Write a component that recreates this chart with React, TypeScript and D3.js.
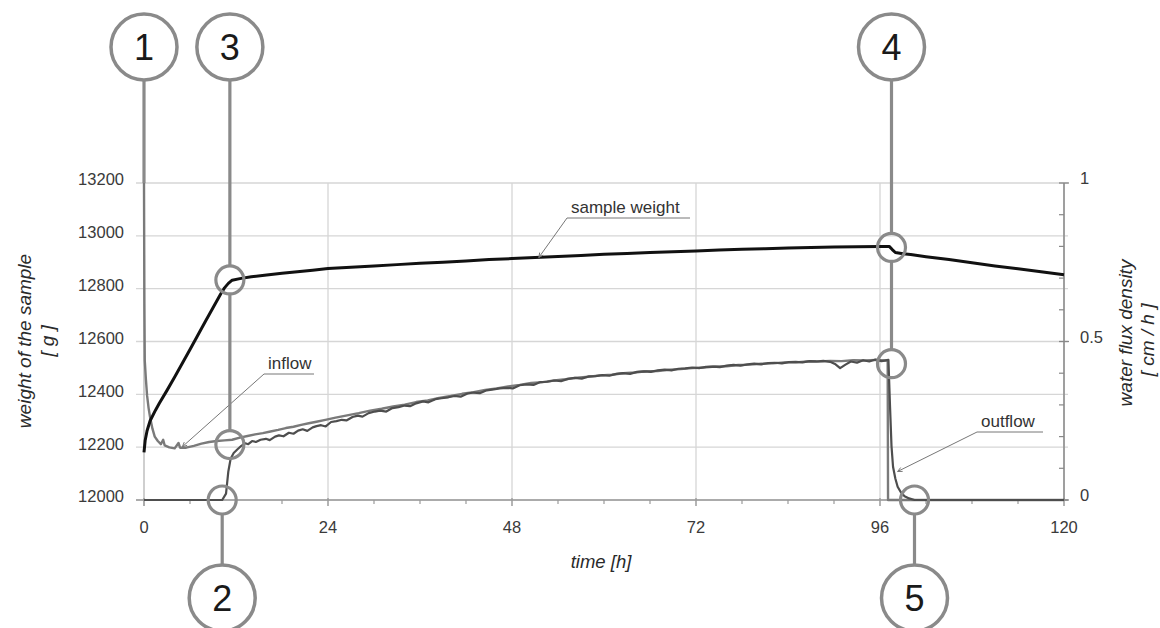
import React from "react";
import * as d3 from "d3";

// ---------- data ----------
const xTicksMajor = [0, 24, 48, 72, 96, 120];
const xTicksMinor = [6, 12, 18, 30, 36, 42, 54, 60, 66, 78, 84, 90, 102, 108, 114];
const weightTicks = [12000, 12200, 12400, 12600, 12800, 13000, 13200];
const fluxTicksLabeled = [0, 0.5, 1];
const fluxTicksMinor = [0.1, 0.2, 0.3, 0.4, 0.6, 0.7, 0.8, 0.9];

// sample weight [g] vs time [h]
const sampleWeight: [number, number][] = [
  [0, 12180], [0.15, 12225], [0.4, 12262], [0.8, 12300], [1.5, 12340], [2, 12366], [3, 12415],
  [4, 12466], [5, 12518], [6, 12570], [7, 12623], [8, 12676], [9, 12728], [10, 12780],
  [10.5, 12803], [11, 12820], [11.5, 12832], [12.5, 12838], [14, 12845], [16, 12852],
  [18, 12858], [20, 12864], [22, 12870], [24, 12876], [27, 12881], [30, 12886], [33, 12891],
  [36, 12896], [39, 12900], [42, 12905], [45, 12910], [48, 12914], [51, 12918], [54, 12922],
  [57, 12926], [60, 12930], [63, 12933], [66, 12937], [69, 12940], [72, 12943], [75, 12946],
  [78, 12949], [81, 12951], [84, 12954], [87, 12956], [90, 12958], [93, 12959], [96, 12960],
  [97.2, 12960], [97.6, 12948], [98, 12937], [99, 12932], [100, 12929], [102, 12921],
  [105, 12910], [108, 12898], [111, 12886], [114, 12875], [117, 12864], [120, 12853],
];

// inflow [cm/h]
const inflow: [number, number][] = [
  [0, 1.0], [0.05, 0.62], [0.1, 0.44], [0.25, 0.38], [0.4, 0.33], [0.6, 0.29], [0.8, 0.26],
  [1.1, 0.225], [1.4, 0.2], [1.8, 0.186], [2.2, 0.176], [2.5, 0.19], [2.7, 0.172], [3.3, 0.166],
  [4.0, 0.163], [4.5, 0.18], [4.7, 0.165], [5.5, 0.165], [6.5, 0.171], [7.5, 0.178], [8.5, 0.183],
  [9.5, 0.186], [10.5, 0.188], [11.5, 0.19], [12.5, 0.197], [13.5, 0.202], [14.5, 0.207],
  [15.5, 0.211], [16.5, 0.216], [17.5, 0.221], [18.5, 0.227], [19.5, 0.231], [20.5, 0.237],
  [21.5, 0.242], [22.5, 0.247], [23.5, 0.252], [25, 0.26], [26.5, 0.267], [28, 0.274],
  [29.5, 0.282], [31, 0.288], [32.5, 0.295], [34, 0.301], [35.5, 0.309], [37, 0.314],
  [38.5, 0.322], [40, 0.328], [41.5, 0.335], [43, 0.34], [44.5, 0.347], [46, 0.352],
  [47.5, 0.358], [49, 0.363], [50.5, 0.369], [52, 0.372], [53.5, 0.377], [55, 0.381],
  [56.5, 0.386], [58, 0.389], [59.5, 0.393], [61, 0.395], [62.5, 0.4], [64, 0.402],
  [65.5, 0.406], [67, 0.407], [68.5, 0.411], [70, 0.413], [71.5, 0.416], [73, 0.418],
  [74.5, 0.421], [76, 0.422], [77.5, 0.426], [79, 0.427], [80.5, 0.43], [82, 0.431],
  [83.5, 0.434], [85, 0.434], [86.5, 0.437], [88, 0.437], [89.5, 0.439], [91, 0.438],
  [92.5, 0.441], [94, 0.44], [95.5, 0.442], [96.6, 0.44], [97.0, 0.44], [97.05, 0], [120, 0],
];

// outflow [cm/h]
const outflow: [number, number][] = [
  [0, 0], [10.2, 0], [10.7, 0.02], [11.0, 0.09], [11.3, 0.13], [11.7, 0.148], [12.2, 0.16],
  [12.7, 0.171], [13.2, 0.179], [13.6, 0.176], [14.1, 0.186], [14.6, 0.183], [15.2, 0.19],
  [15.9, 0.193], [16.4, 0.189], [17.1, 0.2], [17.6, 0.204], [18.2, 0.201], [18.9, 0.212],
  [19.5, 0.209], [20.1, 0.219], [20.7, 0.223], [21.3, 0.218], [22, 0.229], [22.5, 0.233],
  [23.1, 0.236], [23.7, 0.232], [24.4, 0.246], [25.1, 0.249], [25.8, 0.253], [26.4, 0.251],
  [27.2, 0.262], [27.9, 0.266], [28.5, 0.263], [29.3, 0.274], [30.1, 0.279], [30.8, 0.282],
  [31.6, 0.279], [32.4, 0.29], [33.2, 0.293], [34, 0.298], [34.7, 0.296], [35.5, 0.305],
  [36.4, 0.311], [37.1, 0.308], [38, 0.318], [38.8, 0.321], [39.7, 0.324], [40.5, 0.328],
  [41.3, 0.326], [42.2, 0.336], [43, 0.339], [43.8, 0.337], [44.7, 0.346], [45.6, 0.349],
  [46.4, 0.352], [47.3, 0.354], [48.1, 0.352], [49, 0.362], [49.9, 0.365], [50.8, 0.363],
  [51.7, 0.372], [52.6, 0.373], [53.5, 0.377], [54.4, 0.375], [55.3, 0.382], [56.2, 0.385],
  [57.1, 0.383], [58, 0.39], [58.9, 0.391], [59.8, 0.394], [60.7, 0.392], [61.6, 0.398],
  [62.5, 0.4], [63.4, 0.398], [64.3, 0.404], [65.2, 0.406], [66.1, 0.404], [67, 0.409],
  [67.9, 0.411], [68.8, 0.409], [69.7, 0.414], [70.6, 0.415], [71.5, 0.418], [72.4, 0.416],
  [73.3, 0.42], [74.2, 0.421], [75.1, 0.419], [76, 0.424], [76.9, 0.426], [77.8, 0.424],
  [78.7, 0.428], [79.6, 0.43], [80.5, 0.428], [81.4, 0.432], [82.3, 0.433], [83.2, 0.431],
  [84.1, 0.435], [85, 0.436], [85.9, 0.434], [86.8, 0.438], [87.7, 0.437], [88.6, 0.439],
  [89.5, 0.436], [90.2, 0.428], [90.8, 0.416], [91.5, 0.427], [92.2, 0.437], [93, 0.433],
  [93.8, 0.441], [94.6, 0.437], [95.4, 0.443], [96.2, 0.438], [97.1, 0.442], [97.3, 0.3],
  [97.5, 0.17], [97.7, 0.105], [98, 0.068], [98.3, 0.042], [98.7, 0.025], [99.2, 0.012],
  [99.8, 0.005], [100.5, 0], [120, 0],
];

// numbered callouts: time, position (top/bottom), marked points
type Mark = { axis: "w" | "f"; v: number };
const callouts: { id: string; t: number; side: "top" | "bottom"; marks: Mark[] }[] = [
  { id: "1", t: 0, side: "top", marks: [] },
  { id: "3", t: 11.2, side: "top", marks: [{ axis: "w", v: 12833 }, { axis: "f", v: 0.175 }] },
  { id: "2", t: 10.2, side: "bottom", marks: [{ axis: "f", v: 0 }] },
  { id: "4", t: 97.5, side: "top", marks: [{ axis: "w", v: 12956 }, { axis: "f", v: 0.43 }] },
  { id: "5", t: 100.5, side: "bottom", marks: [{ axis: "f", v: 0 }] },
];

// text labels with leader lines
const seriesLabels: { text: string; t: number; axis: "w" | "f"; v: number; lx: number; ly: number; w: number }[] = [
  { text: "sample weight", t: 51.5, axis: "w", v: 12918, lx: 567, ly: 218, w: 123 },
  { text: "inflow", t: 5.0, axis: "f", v: 0.168, lx: 264, ly: 374, w: 50 },
  { text: "outflow", t: 98.3, axis: "f", v: 0.09, lx: 977, ly: 432, w: 66 },
];

// ---------- layout ----------
const W = 1160, H = 628;
const L = 144, R = 1064, T = 183, B = 500;
const FONT = "'Liberation Sans', Arial, sans-serif";
const GRID = "#d6d6d6";
const CALL = "#8a8a8a";

export default function App() {
  const x = d3.scaleLinear().domain([0, 120]).range([L, R]);
  const yW = d3.scaleLinear().domain([12000, 13200]).range([B, T]);
  const yF = d3.scaleLinear().domain([0, 1]).range([B, T]);

  const lineW = d3.line<[number, number]>().x((d) => x(d[0])).y((d) => yW(d[1]));
  const lineF = d3.line<[number, number]>().x((d) => x(d[0])).y((d) => yF(d[1]));

  const bigR = 33, smallR = 14;
  const topCY = 47, botCY = 598;

  return (
    <svg width={W} height={H} style={{ position: "absolute", left: 0, top: 0, background: "#fff" }} fontFamily={FONT}>
      <rect x={0} y={0} width={W} height={H} fill="#fff" />
      {/* horizontal grid */}
      {weightTicks.map((v) => (
        <line key={"hg" + v} x1={L - 8} x2={R + 4} y1={yW(v)} y2={yW(v)} stroke={GRID} strokeWidth={1.4} />
      ))}
      {/* vertical grid */}
      {xTicksMajor.map((t) => (
        <line key={"vg" + t} x1={x(t)} x2={x(t)} y1={T} y2={B + 6} stroke={t === 0 ? "#b5b5b5" : GRID} strokeWidth={1.3} />
      ))}
      {/* x axis line and ticks */}
      <line x1={L - 8} x2={R + 4} y1={B} y2={B} stroke="#9a9a9a" strokeWidth={1.5} />
      {xTicksMinor.map((t) => (
        <line key={"xm" + t} x1={x(t)} x2={x(t)} y1={B} y2={B + 4} stroke="#9a9a9a" strokeWidth={1.2} />
      ))}
      {xTicksMajor.map((t) => (
        <line key={"xM" + t} x1={x(t)} x2={x(t)} y1={B - 2} y2={B + 6} stroke="#9a9a9a" strokeWidth={1.3} />
      ))}
      {/* right axis */}
      <line x1={R} x2={R} y1={T} y2={B} stroke="#888" strokeWidth={1.5} />
      {fluxTicksMinor.map((v) => (
        <line key={"fm" + v} x1={R - 5} x2={R} y1={yF(v)} y2={yF(v)} stroke="#888" strokeWidth={1.2} />
      ))}
      {fluxTicksLabeled.map((v) => (
        <line key={"fM" + v} x1={R - 5} x2={R + 5} y1={yF(v)} y2={yF(v)} stroke="#888" strokeWidth={1.3} />
      ))}

      {/* tick labels */}
      {weightTicks.map((v) => (
        <text key={"wl" + v} x={124} y={yW(v) - 2} textAnchor="end" dominantBaseline="middle" fontSize={16.5} fill="#3a3a3a">
          {v}
        </text>
      ))}
      {fluxTicksLabeled.map((v) => (
        <text key={"fl" + v} x={1080} y={yF(v) - 3} textAnchor="start" dominantBaseline="middle" fontSize={16.5} fill="#3a3a3a">
          {v}
        </text>
      ))}
      {xTicksMajor.map((t) => (
        <text key={"xl" + t} x={x(t)} y={533} textAnchor="middle" fontSize={16.5} fill="#3a3a3a">
          {t}
        </text>
      ))}

      {/* axis titles */}
      <text x={601} y={568} textAnchor="middle" fontSize={18.5} fontStyle="italic" fill="#2a2a2a">
        time [h]
      </text>
      <g transform="translate(31,341) rotate(-90)">
        <text textAnchor="middle" fontSize={19} fontStyle="italic" fill="#2a2a2a">weight of the sample</text>
      </g>
      <g transform="translate(54,341) rotate(-90)">
        <text textAnchor="middle" fontSize={19} fontStyle="italic" fill="#2a2a2a">[ g ]</text>
      </g>
      <g transform="translate(1132,333) rotate(-90)">
        <text textAnchor="middle" fontSize={19} fontStyle="italic" fill="#2a2a2a">water flux density</text>
      </g>
      <g transform="translate(1154,340) rotate(-90)">
        <text textAnchor="middle" fontSize={19} fontStyle="italic" fill="#2a2a2a">[ cm / h ]</text>
      </g>

      {/* data */}
      <path d={lineF(inflow) || ""} fill="none" stroke="#7a7a7a" strokeWidth={2.4} strokeLinejoin="round" />
      <path d={lineF(outflow) || ""} fill="none" stroke="#4e4e4e" strokeWidth={2.2} strokeLinejoin="round" />
      <path d={lineW(sampleWeight) || ""} fill="none" stroke="#111" strokeWidth={3} strokeLinejoin="round" />

      {/* series labels with leaders */}
      {seriesLabels.map((s) => {
        const tx = x(s.t);
        const ty = s.axis === "w" ? yW(s.v) : yF(s.v);
        const ang = Math.atan2(ty - s.ly, tx - s.lx);
        const a1 = ang + Math.PI - 0.45, a2 = ang + Math.PI + 0.45;
        return (
          <g key={s.text}>
            <text x={s.lx + 4} y={s.ly - 5} fontSize={17} fill="#333">{s.text}</text>
            <line x1={s.lx} x2={s.lx + s.w} y1={s.ly} y2={s.ly} stroke="#777" strokeWidth={1} />
            <line x1={s.lx} y1={s.ly} x2={tx} y2={ty} stroke="#777" strokeWidth={1} />
            <line x1={tx} y1={ty} x2={tx + 5 * Math.cos(a1)} y2={ty + 5 * Math.sin(a1)} stroke="#777" strokeWidth={1} />
            <line x1={tx} y1={ty} x2={tx + 5 * Math.cos(a2)} y2={ty + 5 * Math.sin(a2)} stroke="#777" strokeWidth={1} />
          </g>
        );
      })}

      {/* numbered callouts */}
      {callouts.map((c) => {
        const cx = x(c.t);
        const pts = c.marks.map((m) => (m.axis === "w" ? yW(m.v) : yF(m.v)));
        const segs: [number, number][] = [];
        if (c.side === "top") {
          let y0 = topCY + bigR;
          if (pts.length === 0) segs.push([y0, T]);
          pts.forEach((p) => {
            segs.push([y0, p - smallR]);
            y0 = p + smallR;
          });
        } else {
          let y0 = botCY - bigR;
          const sorted = [...pts].sort((a, b) => b - a);
          sorted.forEach((p) => {
            segs.push([y0, p + smallR]);
            y0 = p - smallR;
          });
        }
        const cy = c.side === "top" ? topCY : botCY;
        return (
          <g key={"c" + c.id}>
            {segs.map((s, i) => (
              <line key={i} x1={cx} x2={cx} y1={s[0]} y2={s[1]} stroke={CALL} strokeWidth={3.2} />
            ))}
            {pts.map((p, i) => (
              <circle key={"s" + i} cx={cx} cy={p} r={smallR} fill="none" stroke={CALL} strokeWidth={3.2} />
            ))}
            <circle cx={cx} cy={cy} r={bigR} fill="#fff" stroke={CALL} strokeWidth={3.5} />
            <text x={cx} y={cy + 13} textAnchor="middle" fontSize={36} fill="#1a1a1a">
              {c.id}
            </text>
          </g>
        );
      })}
    </svg>
  );
}
